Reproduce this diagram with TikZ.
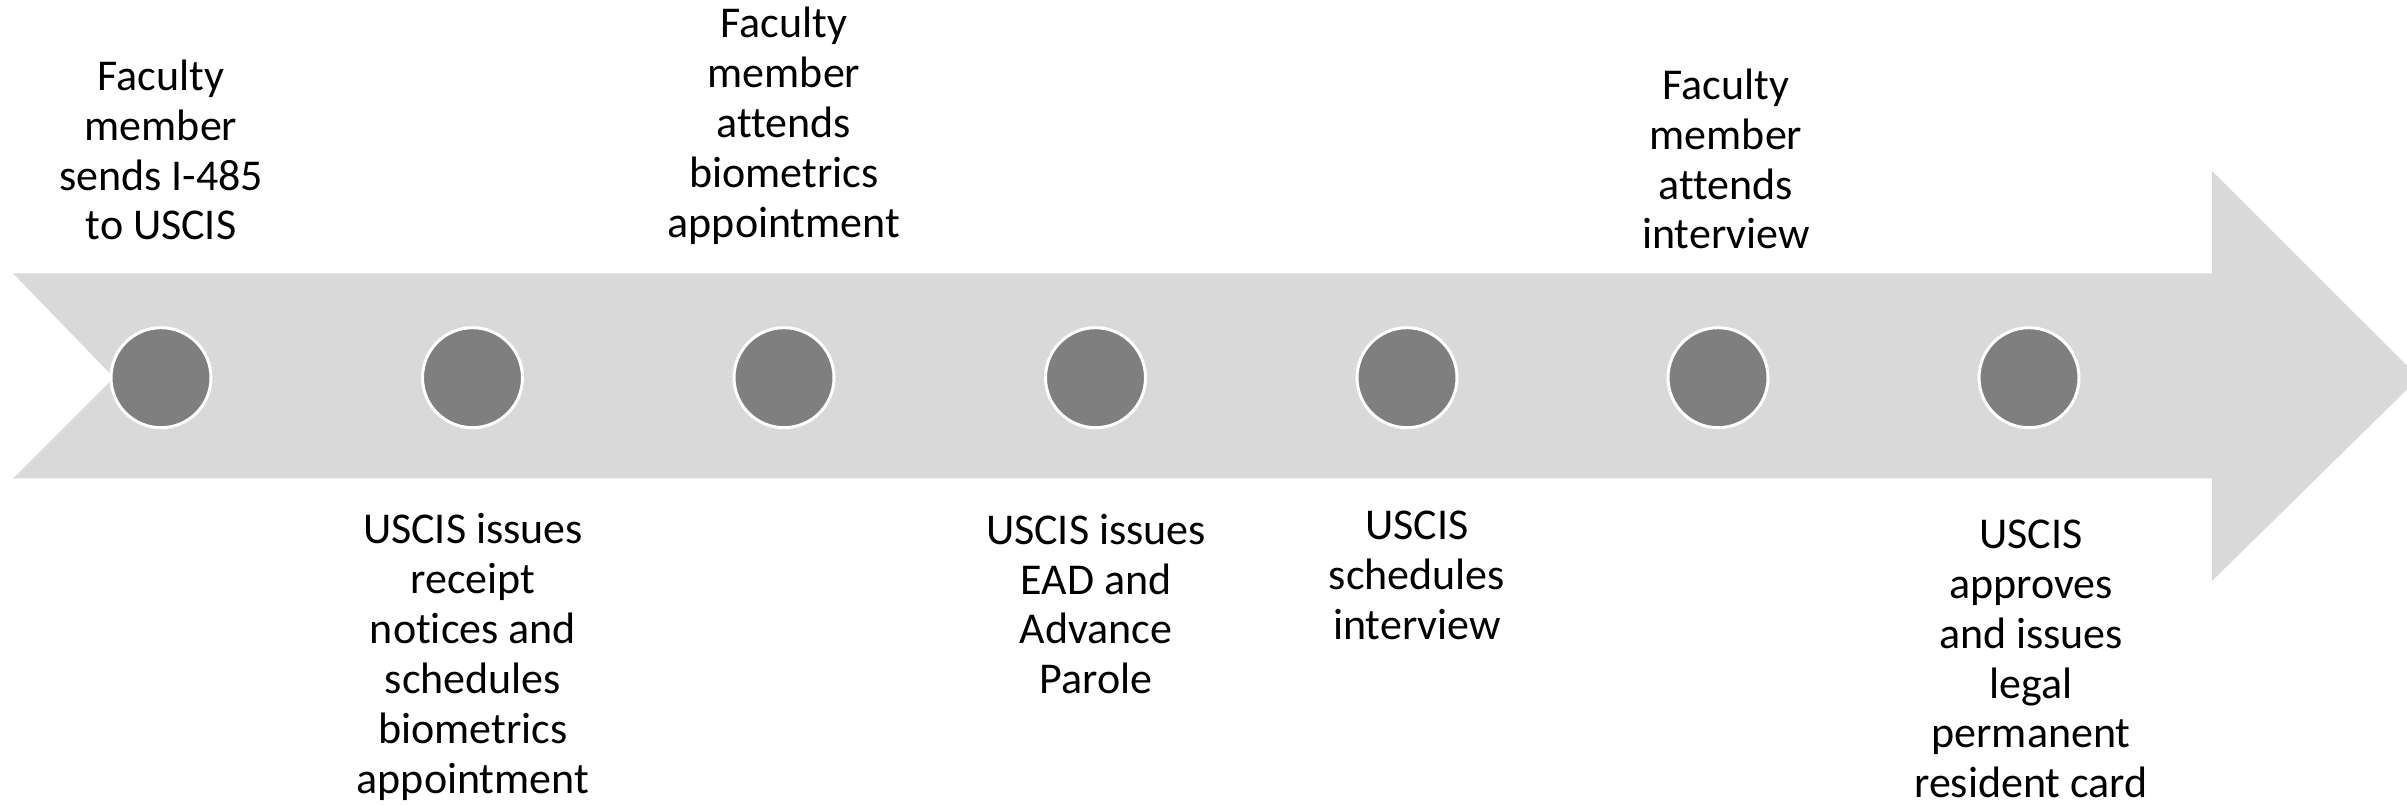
\documentclass[tikz,border=0pt]{standalone}
\usepackage{fontspec}
\setmainfont{Carlito}[Ligatures=NoCommon]
\begin{document}
\begin{tikzpicture}[x=1pt,y=1pt,
  band/.style={fill=bandgray,draw=none},
  milestone/.style={circle,fill=dotgray,draw=white,line width=3pt,minimum size=100pt,inner sep=0pt},
  label/.style={align=center,font=\fontsize{44}{49.9}\selectfont,inner sep=0pt,text=black}]
\definecolor{bandgray}{HTML}{D9D9D9}
\definecolor{dotgray}{HTML}{7F7F7F}
\useasboundingbox (0,0) rectangle (2407,805);
\clip (0,0) rectangle (2407,805);
% timeline arrow with notched tail
\fill[band] (13,531.7) -- (2212,531.7) -- (2212,634) -- (2419,427.3) -- (2212,224)
  -- (2212,326.5) -- (13,326.5) -- (114,427.3) -- cycle;
% milestones
\foreach \i/\x in {1/161,2/472.5,3/784,4/1095.5,5/1407,6/1718,7/2029}
  \node[milestone] (c\i) at (\x,427.3) {};
% event texts above the arrow
\node[label] (t1) at (161,655) {Faculty\\member\\sends I-485\\to USCIS};
\node[label] (t2) at (784,679) {Faculty\\member\\attends\\biometrics\\appointment};
\node[label] (t6) at (1726,646) {Faculty\\member\\attends\\interview};
% event texts below the arrow
\node[label] (t3) at (473,148) {USCIS issues\\receipt\\notices and\\schedules\\biometrics\\appointment};
\node[label] (t4) at (1096,201) {USCIS issues\\EAD and\\Advance\\Parole};
\node[label] (t5) at (1417,230) {USCIS\\schedules\\interview};
\node[label] (t7) at (2031,146) {USCIS\\approves\\and issues\\legal\\permanent\\resident card};
\end{tikzpicture}
\end{document}
